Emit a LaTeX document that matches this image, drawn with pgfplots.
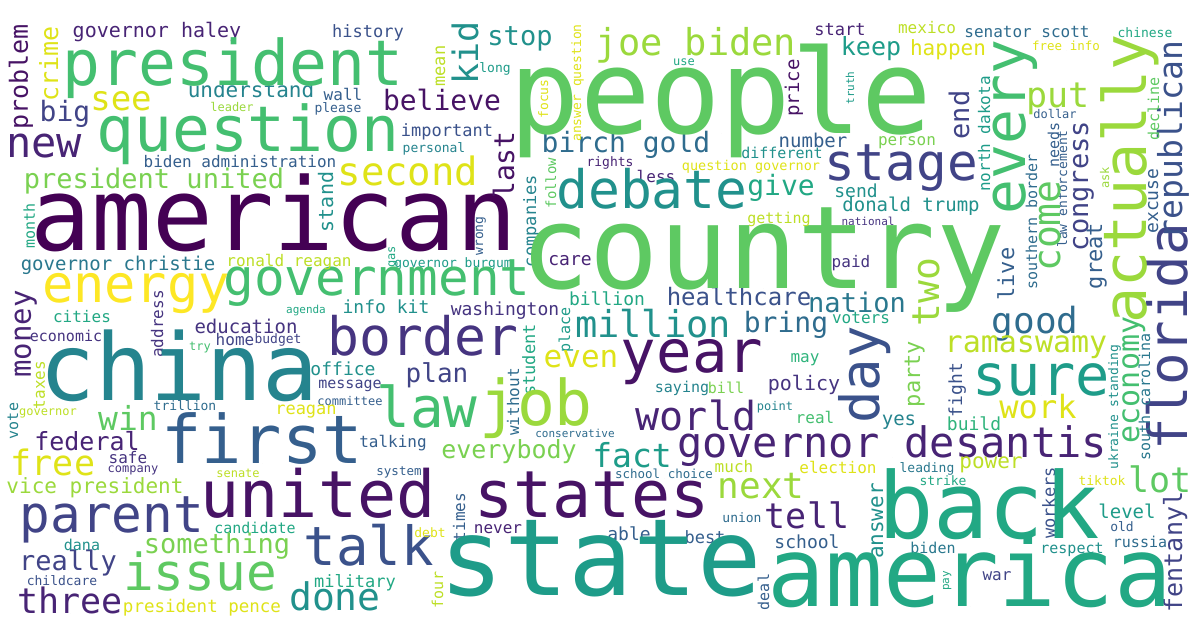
\documentclass[border=0pt]{standalone}
\usepackage{fontspec}
\newfontfamily\wcfont{DejaVu Sans Mono}
\usepackage{pgfplots}
\usepackage{pgfplotstable}
\pgfplotsset{compat=1.18}
\definecolor{v0}{HTML}{440154}
\definecolor{v1}{HTML}{471365}
\definecolor{v2}{HTML}{482475}
\definecolor{v3}{HTML}{463480}
\definecolor{v4}{HTML}{414487}
\definecolor{v5}{HTML}{3B528B}
\definecolor{v6}{HTML}{355F8D}
\definecolor{v7}{HTML}{2F6C8E}
\definecolor{v8}{HTML}{2A788E}
\definecolor{v9}{HTML}{25848E}
\definecolor{v10}{HTML}{21918C}
\definecolor{v11}{HTML}{1E9C89}
\definecolor{v12}{HTML}{22A884}
\definecolor{v13}{HTML}{2FB47C}
\definecolor{v14}{HTML}{44BF70}
\definecolor{v15}{HTML}{5EC962}
\definecolor{v16}{HTML}{7AD151}
\definecolor{v17}{HTML}{9BD93C}
\definecolor{v18}{HTML}{BDDF26}
\definecolor{v19}{HTML}{DFE318}
\definecolor{v20}{HTML}{FDE725}
\pgfplotstableread[col sep=comma]{
x,y,s,r,c,w
721,133,117,0,15,people
763,288,115,0,15,country
274,250,101,0,0,american
179,400,93,0,9,china
601,595,107,0,11,state
970,606,96,0,12,america
989,538,92,0,12,back
455,517,65,0,1,united states
262,463,67,0,6,first
233,85,63,0,14,president
248,151,63,0,14,question
536,425,63,0,17,job
427,427,56,0,14,law
692,372,59,0,1,year
369,565,54,0,5,talk
423,355,53,0,3,border
1041,395,57,0,11,sure
652,208,53,0,10,debate
901,180,51,0,4,stage
136,302,52,0,20,energy
377,295,51,0,14,government
112,532,51,0,4,parent
200,590,51,0,15,issue
892,457,42,0,2,governor desantis
696,430,40,0,2,world
408,185,39,0,19,second
44,157,42,0,2,new
696,55,37,0,17,joe biden
653,337,37,0,10,million
335,610,38,0,10,done
761,498,36,0,17,next
807,528,35,0,2,tell
1035,333,36,0,7,good
70,613,35,0,2,three
53,475,35,0,19,free
1160,492,35,0,15,lot
1058,107,35,0,17,put
121,110,34,0,19,see
128,430,33,0,15,win
632,467,33,0,11,fact
1038,418,32,0,19,work
581,367,31,0,19,even
1026,352,30,0,18,ramaswamy
65,121,28,0,4,big
442,110,28,0,1,believe
626,152,28,0,7,birch gold
786,332,28,0,7,bring
781,195,28,0,12,give
154,188,27,0,16,president united
520,45,27,0,10,stop
857,312,27,0,8,nation
217,553,27,0,16,something
68,570,27,0,4,really
437,382,26,0,4,plan
871,55,25,0,11,keep
87,450,25,0,2,federal
509,458,25,0,16,everybody
739,305,24,0,5,healthcare
157,37,20,0,2,governor haley
251,97,21,0,9,understand
95,493,21,0,17,vice president
948,55,21,0,19,happen
991,468,21,0,18,power
804,390,20,0,3,policy
118,270,19,0,8,governor christie
813,147,19,0,6,number
911,211,19,0,10,donald trump
246,333,19,0,3,education
1127,518,19,0,11,level
899,425,19,0,9,yes
607,305,18,0,12,billion
386,313,18,0,10,info kit
505,315,18,0,3,washington
343,375,18,0,10,office
570,265,18,0,2,care
807,548,18,0,6,school
629,540,18,0,6,able
974,430,18,0,13,build
202,612,17.5,0,19,president pence
355,587,17,0,12,military
840,35,17,0,2,start
705,543,17,0,6,best
368,37,17,0,5,history
447,136,17,0,5,important
306,414,17,0,19,reagan
1027,37,16,0,7,senator scott
289,266,16,0,18,ronald reagan
927,33,16,0,18,mexico
907,145,16,0,16,person
82,322,16,0,12,cities
235,345,16,0,4,home
861,323,16,0,12,voters
851,267,16,0,3,paid
805,362,16,0,13,may
393,447,16,0,6,talking
498,533,16,0,2,never
815,423,16,0,14,real
734,472,16,0,18,much
838,473,16,0,19,election
128,463,16,0,3,safe
656,182,16,0,2,less
343,100,16,0,6,wall
997,580,16,0,4,war
240,167,16,0,6,biden administration
856,197,18,0,10,send
782,158,15,0,10,different
779,223,15,0,18,getting
66,341,15,0,3,economic
350,388,15,0,4,message
682,392,15,0,9,saying
726,393,15,0,16,bill
255,533,15,0,12,candidate
82,550,15,0,10,dana
1140,547,15,0,7,russia
933,553,15,0,8,biden
1072,553,15,0,10,respect
185,410,13,0,7,trillion
751,170,13.5,0,19,question governor
453,267,13,0,11,governor burgum
1145,37,13,0,12,chinese
610,166,13,0,2,rights
434,152,13,0,9,personal
495,72,13,0,11,long
338,112,13,0,6,please
278,343,13,0,4,budget
62,585,13,0,5,childcare
430,537,13,0,19,debt
742,522,13,0,7,union
927,472,13,0,8,leading
943,485,13,0,12,strike
1102,485,13,0,19,tiktok
1122,531,13,0,6,old
1066,50,12.5,0,19,free info
664,478,12.5,0,7,school choice
399,475,12.5,0,6,system
232,111,12,0,17,leader
684,65,12,0,12,use
1055,118,12,0,6,dollar
200,350,12,0,14,try
48,415,12,0,18,governor
133,472,12,0,3,company
238,477,12,0,18,senate
350,405,12,0,6,committee
775,410,12,0,9,point
306,313,11,0,12,agenda
868,225,11,0,3,national
575,437,11,0,7,conservative
28,77,25,90,1,problem
58,64,25,90,19,crime
478,53,35,90,10,kid
445,66,17,90,18,mean
514,165,28,90,1,last
581,83,13,90,19,answer question
548,99,13,90,19,focus
556,183,14,90,15,follow
536,221,17,90,9,companies
799,88,19,90,1,price
854,88,11,90,11,truth
1025,127,58,90,14,every
1146,179,60,90,17,actually
1182,140,33,90,5,republican
969,115,27,90,4,end
990,134,16,90,11,north dakota
1037,222,15,90,7,southern border
1059,145,15,90,6,needs
1067,189,13,90,6,law enforcement
1088,186,27,90,4,congress
1159,109,15,90,15,decline
1158,201,18,90,6,excuse
1109,178,12,90,17,ask
35,226,15,90,12,month
31,334,29,90,2,money
163,324,16,90,3,address
45,385,16,90,18,taxes
18,421,15,90,9,vote
333,202,20,90,10,stand
395,257,12,90,12,gas
483,236,13,90,6,wrong
465,517,16,90,6,times
443,590,15,90,18,four
519,402,16,90,7,without
535,360,17,90,12,student
570,330,15,90,11,place
879,375,54,90,5,day
883,521,21,90,10,answer
769,592,15,90,6,deal
1139,380,30,90,14,economy
1187,337,54,90,4,florida
1118,407,13,90,10,ukraine standing
1150,397,15,90,8,south carolina
1102,256,22,90,6,great
1014,274,22,90,6,live
1060,226,38,90,15,come
939,292,38,90,17,two
920,374,22,90,16,party
962,390,18,90,5,fight
1055,503,17,90,5,workers
1182,552,25,90,4,fentanyl
949,581,11,90,12,pay
}\wordtab
\begin{document}
\begin{tikzpicture}
\fill[white] (0,0) rectangle (1192pt,619pt);
\path[use as bounding box] (0,0) rectangle (1192pt,619pt);
\begin{axis}[at={(0,0)}, anchor=south west, scale only axis,
  width=1192pt, height=619pt, xmin=0, xmax=1192, ymin=0, ymax=619,
  y dir=reverse, hide axis, clip=false, enlargelimits=false]
\pgfplotsinvokeforeach{0,...,20}{
\addplot[only marks, mark=*, mark size=0pt, mark options={draw=none,fill=none},
  restrict expr to domain={\thisrow{c}}{#1:#1},
  point meta=explicit symbolic,
  visualization depends on={\thisrow{s}\as\wfs},
  visualization depends on={\thisrow{r}\as\wrot},
  nodes near coords,
  every node near coord/.append style={anchor=base, inner sep=0pt, outer sep=0pt,
    rotate=\wrot, font=\wcfont\fontsize{\wfs}{\wfs}\selectfont, text=v#1}]
  table[x=x,y=y,meta=w]{\wordtab};
}
\end{axis}
\end{tikzpicture}
\end{document}
